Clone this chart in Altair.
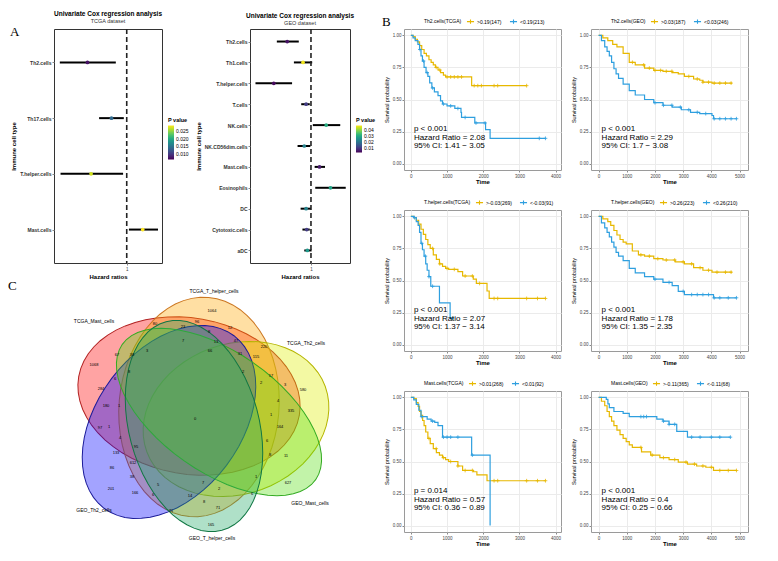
import altair as alt
import numpy as np
import pandas as pd

FONT = "Liberation Sans"
YELLOW = "#E7B800"
BLUE = "#2E9FDF"

# ---------------- Panel A: univariate Cox (forest) ----------------
tcga_cells = ["Th2.cells", "Th17.cells", "T.helper.cells", "Mast.cells"]
tcga_hr = [0.46, 0.79, 0.51, 1.22]
tcga_lo = [0.08, 0.62, 0.09, 1.03]
tcga_hi = [0.85, 0.96, 0.95, 1.43]
tcga_p = [0.0075, 0.014, 0.027, 0.0285]

geo_cells = ["Th2.cells", "Th1.cells", "T.helper.cells", "T.cells", "NK.cells",
             "NK.CD56dim.cells", "Mast.cells", "Eosinophils", "DC", "Cytotoxic.cells", "aDC"]
geo_hr = [0.61, 0.87, 0.39, 0.92, 1.25, 0.89, 1.14, 1.32, 0.92, 0.93, 0.94]
geo_lo = [0.44, 0.72, 0.09, 0.84, 1.03, 0.78, 1.06, 1.07, 0.83, 0.86, 0.89]
geo_hi = [0.80, 1.02, 0.69, 0.98, 1.48, 0.99, 1.23, 1.57, 1.00, 0.98, 1.01]
geo_p = [0.004, 0.046, 0.003, 0.010, 0.030, 0.022, 0.005, 0.028, 0.022, 0.010, 0.026]

# ---------------- Panel B: Kaplan-Meier curves ----------------
km_names = ["Th2.cells(TCGA)", "Th2.cells(GEO)", "T.helper.cells(TCGA)",
            "T.helper.cells(GEO)", "Mast.cells(TCGA)", "Mast.cells(GEO)"]
km_high_labels = [">0.19(147)", ">0.03(187)", ">-0.03(269)", ">0.26(223)", ">0.01(268)", ">-0.11(365)"]
km_low_labels = ["<0.19(213)", "<0.03(246)", "<-0.03(91)", "<0.26(210)", "<0.01(92)", "<-0.11(68)"]
km_p = ["p < 0.001", "p < 0.001", "p < 0.001", "p < 0.001", "p = 0.014", "p < 0.001"]
km_hr = ["Hazard Ratio = 2.08", "Hazard Ratio = 2.29", "Hazard Ratio = 2.07",
         "Hazard Ratio = 1.78", "Hazard Ratio = 0.57", "Hazard Ratio = 0.4"]
km_ci = ["95% CI: 1.41 \u2212 3.05", "95% CI: 1.7 \u2212 3.08", "95% CI: 1.37 \u2212 3.14",
         "95% CI: 1.35 \u2212 2.35", "95% CI: 0.36 \u2212 0.89", "95% CI: 0.25 \u2212 0.66"]
tcga_time_ticks = [0, 1000, 2000, 3000, 4000]
geo_time_ticks = [0, 1000, 2000, 3000, 4000, 5000]
surv_ticks = [0, 0.25, 0.5, 0.75, 1.0]

th2_tcga_hi_t = [0, 60, 120, 180, 240, 300, 365, 430, 500, 560, 620, 680, 750, 820, 900, 960, 1680, 3200]
th2_tcga_hi_s = [1.0, 0.99, 0.97, 0.95, 0.92, 0.89, 0.86, 0.84, 0.81, 0.79, 0.77, 0.75, 0.73, 0.71, 0.69, 0.676, 0.608, 0.608]
th2_tcga_hi_c = [700, 800, 1000, 1100, 1200, 1300, 1400, 1750, 1850, 1950, 2300, 2400, 3200]
th2_tcga_lo_t = [0, 60, 120, 195, 240, 280, 320, 365, 420, 470, 520, 580, 650, 750, 820, 875, 1000, 1215, 1385, 1400, 1767, 2065, 2190, 3720]
th2_tcga_lo_s = [1.0, 0.98, 0.96, 0.93, 0.89, 0.84, 0.80, 0.75, 0.71, 0.68, 0.63, 0.59, 0.56, 0.53, 0.49, 0.465, 0.45, 0.43, 0.40, 0.36, 0.317, 0.265, 0.197, 0.197]
th2_tcga_lo_c = [250, 350, 450, 600, 900, 1100, 1300, 1500, 1800, 2050, 3550, 3720]

th2_geo_hi_t = [0, 150, 326, 500, 650, 870, 1087, 1300, 1630, 1957, 2283, 2610, 2826, 3043, 3370, 3587, 3700, 4022, 4730]
th2_geo_hi_s = [1.0, 0.98, 0.96, 0.93, 0.91, 0.86, 0.79, 0.77, 0.745, 0.727, 0.72, 0.71, 0.70, 0.68, 0.66, 0.65, 0.635, 0.628, 0.628]
th2_geo_hi_c = [1200, 1600, 1800, 2000, 2200, 2400, 2600, 3200, 3500, 3700, 3900, 4100, 4300, 4500, 4700]
th2_geo_lo_t = [0, 100, 217, 300, 380, 460, 543, 620, 707, 870, 1087, 1300, 1630, 1957, 2283, 2610, 2935, 3261, 3587, 4022, 4076, 4890]
th2_geo_lo_s = [1.0, 0.96, 0.91, 0.875, 0.84, 0.79, 0.74, 0.70, 0.665, 0.62, 0.57, 0.535, 0.50, 0.475, 0.455, 0.44, 0.42, 0.40, 0.39, 0.375, 0.35, 0.35]
th2_geo_lo_c = [2000, 2300, 2600, 2900, 3200, 3500, 3800, 4100, 4300, 4500, 4700, 4890]

th_tcga_hi_t = [0, 80, 150, 215, 280, 345, 410, 470, 535, 620, 705, 790, 875, 960, 1045, 1300, 1430, 1725, 1810, 2105, 2165, 3720]
th_tcga_hi_s = [1.0, 0.99, 0.97, 0.94, 0.90, 0.86, 0.82, 0.78, 0.75, 0.70, 0.665, 0.63, 0.61, 0.595, 0.587, 0.57, 0.535, 0.51, 0.477, 0.418, 0.36, 0.36]
th_tcga_hi_c = [600, 800, 1000, 1200, 1500, 1700, 1900, 2300, 2400, 3200, 3500, 3720]
th_tcga_lo_t = [0, 80, 150, 200, 240, 280, 320, 365, 410, 450, 500, 550, 790, 1085, 1145]
th_tcga_lo_s = [1.0, 0.99, 0.96, 0.93, 0.875, 0.79, 0.74, 0.69, 0.63, 0.58, 0.53, 0.455, 0.325, 0.205, 0.205]
th_tcga_lo_c = [100, 300, 400, 500, 600, 1145]

th_geo_hi_t = [0, 150, 326, 430, 543, 650, 760, 870, 978, 1196, 1413, 1630, 1957, 2283, 2717, 3043, 3370, 3700, 4022, 4730]
th_geo_hi_s = [1.0, 0.98, 0.96, 0.93, 0.89, 0.855, 0.82, 0.80, 0.785, 0.73, 0.70, 0.69, 0.67, 0.66, 0.645, 0.63, 0.60, 0.58, 0.565, 0.565]
th_geo_hi_c = [1500, 1800, 2100, 2400, 2700, 3000, 3300, 3600, 3900, 4200, 4500, 4700]
th_geo_lo_t = [0, 100, 217, 300, 380, 460, 543, 620, 707, 870, 1087, 1300, 1630, 1957, 2283, 2610, 2826, 3043, 4022, 4076, 4890]
th_geo_lo_s = [1.0, 0.95, 0.91, 0.875, 0.84, 0.80, 0.76, 0.72, 0.69, 0.655, 0.595, 0.56, 0.53, 0.51, 0.485, 0.46, 0.415, 0.39, 0.39, 0.365, 0.365]
th_geo_lo_c = [2000, 2500, 3000, 3300, 3500, 3700, 3900, 4100, 4300, 4600, 4890]

mast_tcga_hi_t = [0, 80, 150, 200, 240, 280, 325, 365, 410, 470, 535, 620, 705, 790, 875, 960, 1045, 1300, 1430, 1725, 1825, 2105, 3720]
mast_tcga_hi_s = [1.0, 0.99, 0.96, 0.93, 0.89, 0.86, 0.82, 0.78, 0.73, 0.68, 0.64, 0.60, 0.57, 0.55, 0.53, 0.515, 0.50, 0.465, 0.43, 0.42, 0.395, 0.35, 0.35]
mast_tcga_hi_c = [500, 700, 900, 1100, 1300, 1500, 1700, 2300, 2400, 3200, 3500, 3720]
mast_tcga_lo_t = [0, 80, 150, 220, 280, 450, 560, 660, 750, 875, 1680, 2190]
mast_tcga_lo_s = [1.0, 0.98, 0.945, 0.90, 0.85, 0.83, 0.815, 0.805, 0.78, 0.69, 0.55, 0.0]
mast_tcga_lo_c = [300, 600, 900, 1000, 1100, 1300, 1700]

mast_geo_hi_t = [0, 100, 217, 300, 380, 460, 543, 650, 760, 870, 978, 1087, 1196, 1522, 1848, 2174, 2500, 2826, 3152, 3478, 3804, 4076, 4890]
mast_geo_hi_s = [1.0, 0.97, 0.935, 0.89, 0.85, 0.815, 0.78, 0.745, 0.71, 0.68, 0.655, 0.63, 0.61, 0.575, 0.55, 0.53, 0.515, 0.495, 0.48, 0.465, 0.455, 0.43, 0.43]
mast_geo_hi_c = [1500, 1900, 2300, 2700, 3100, 3400, 3700, 4000, 4300, 4600, 4890]
mast_geo_lo_t = [0, 272, 330, 380, 543, 870, 1087, 1848, 2065, 2283, 2500, 2772, 3043, 3152, 4674]
mast_geo_lo_s = [1.0, 0.985, 0.95, 0.92, 0.89, 0.875, 0.85, 0.85, 0.83, 0.815, 0.79, 0.735, 0.735, 0.69, 0.69]
mast_geo_lo_c = [1500, 1600, 1700, 2300, 2500, 2700, 3300, 3600, 4000, 4300, 4674]

# ---------------- Panel C: Venn diagram ----------------
venn_sets = ["TCGA_Mast_cells", "TCGA_T_helper_cells", "TCGA_Th2_cells",
             "GEO_Th2_cells", "GEO_Mast_cells", "GEO_T_helper_cells"]
venn_counts = ["1068", "80", "23", "7", "67", "38", "3", "6", "8", "284", "180", "1",
               "1064", "96", "12", "8", "13", "47", "66", "31", "220", "115", "2", "17",
               "3", "2", "580", "4", "335", "1", "0", "97", "1", "164", "4", "95", "6",
               "133", "8", "11", "612", "86", "38", "1", "627", "5", "7", "2", "201",
               "166", "6", "14", "6", "8", "71", "71", "165"]

# Venn geometry (diagram layout, in figure pixel units)
venn_count_x = [90, 151, 179, 179, 113, 128, 143, 111, 125, 97, 102, 115,
                208, 193, 226, 205, 212, 232, 206, 236, 260, 252, 239, 267,
                281, 257, 299, 274, 287, 267, 191, 96, 105, 276, 116, 132, 263,
                112, 266, 282, 129, 108, 128, 252, 284, 154, 199, 215, 107,
                131, 149, 186, 248, 200, 167, 214, 207]
venn_count_y = [371, 330, 333, 347, 361, 361, 357, 385, 378, 395, 412, 412,
                317, 328, 334, 338, 348, 347, 357, 360, 353, 363, 378, 382,
                391, 389, 396, 407, 417, 421, 425, 434, 433, 433, 444, 453, 447,
                459, 461, 462, 469, 474, 483, 483, 489, 491, 489, 495, 495,
                499, 501, 502, 500, 508, 517, 514, 531]
venn_label_x = [90, 210, 302, 90, 306, 208]
venn_label_y = [327, 297, 349, 516, 509, 544]
venn_cx = [185, 195, 232, 165, 215, 190]
venn_cy = [402, 413, 425, 428, 418, 432]
venn_a = [112, 110, 95, 108, 118, 108]
venn_b = [78, 80, 75, 72, 60, 65]
venn_ang = [10, 95, -20, 127, 35, 75]
venn_fill = ["#FF0000", "#FFA500", "#DDEE00", "#0000FF", "#55DD11", "#22AA66"]
venn_edge = ["#B22222", "#CC7722", "#B5B500", "#1A1A99", "#33AA22", "#117744"]


def step_value(ts, ss, t):
    v = ss[0]
    for ti, si in zip(ts, ss):
        if ti <= t:
            v = si
    return v


def forest(cells, hr, lo, hi, pv, subtitle, width, height, xmax, pdomain, pvalues,
           pformat, grad_len, letter=None):
    df = pd.DataFrame({"cell": cells, "hr": hr, "lo": lo, "hi": hi, "p": pv})
    xs = alt.Scale(domain=[0, xmax], nice=False, zero=False)
    ys = alt.Scale(type="point", padding=0.6, domain=cells)
    xaxis = alt.Axis(values=[1], grid=False, domain=False, labelFontSize=4.5,
                     titleFontSize=6, titleFontWeight="bold", tickSize=2,
                     labelPadding=1, titlePadding=3, labelColor="#444")
    yenc = alt.Y("cell:N", scale=ys, sort=None, title="Immune cell type",
                 axis=alt.Axis(labelFontSize=5, labelFontWeight="bold", labelColor="#333",
                               titleFontSize=6, titleFontWeight="bold", tickSize=2,
                               domain=False, labelPadding=1, titlePadding=3))
    base = alt.Chart(df)
    ci = base.mark_rule(color="black", strokeWidth=2).encode(
        x=alt.X("lo:Q", scale=xs, title="Hazard ratios", axis=xaxis), x2="hi:Q", y=yenc)
    ref = alt.Chart(pd.DataFrame({"one": [1.0]})).mark_rule(
        color="#222", strokeWidth=1.6, strokeDash=[5, 3]).encode(
        x=alt.X("one:Q", scale=xs, title="Hazard ratios", axis=xaxis))
    pts = base.mark_circle(size=14, opacity=1).encode(
        x=alt.X("hr:Q", scale=xs, title="Hazard ratios", axis=xaxis), y=yenc,
        color=alt.Color("p:Q", scale=alt.Scale(scheme="viridis", domain=pdomain),
                        legend=alt.Legend(title="P value", orient="none",
                                          legendX=width + 6, legendY=height / 2 - 28,
                                          values=pvalues, format=pformat,
                                          gradientLength=grad_len, gradientThickness=6,
                                          titleFontSize=5.5, titleFontWeight="bold",
                                          labelFontSize=5, titlePadding=2,
                                          gradientStrokeWidth=0)))
    layers = [ci, ref, pts]
    if letter:
        layers.append(alt.Chart(pd.DataFrame({"t": [letter]})).mark_text(
            font="Liberation Serif", fontSize=13, align="left", baseline="top").encode(
            text="t:N", x=alt.value(-44), y=alt.value(-3)))
    return alt.layer(*layers).properties(
        width=width, height=height,
        title=alt.TitleParams("Univariate Cox regression analysis", subtitle=subtitle,
                              fontSize=6.5, fontWeight="bold", subtitleFontSize=5.5,
                              subtitleColor="#333", anchor="middle", frame="group",
                              offset=2, subtitlePadding=1),
        view=alt.ViewBackground(stroke="#333333", strokeWidth=1))


def km(ta, sa, ca, tb, sb, cb, i, xdom, xticks, width, height, letter=None):
    la, lb = km_high_labels[i], km_low_labels[i]
    df = pd.concat([pd.DataFrame({"t": ta, "s": sa, "g": la}),
                    pd.DataFrame({"t": tb, "s": sb, "g": lb})], ignore_index=True)
    cens = pd.concat([
        pd.DataFrame({"t": ca, "s": [step_value(ta, sa, c) for c in ca], "g": la}),
        pd.DataFrame({"t": cb, "s": [step_value(tb, sb, c) for c in cb], "g": lb})],
        ignore_index=True)
    xs = alt.Scale(domain=xdom, nice=False, zero=False)
    ys = alt.Scale(domain=[-0.05, 1.05], nice=False, zero=False)
    xaxis = alt.Axis(values=xticks, tickCount=20, format="d", labelOverlap=False,
                     labelFontSize=4.5, titleFontSize=6,
                     titleFontWeight="bold", gridColor="#EBEBEB", domain=False,
                     tickColor="#888", tickSize=2, labelColor="#444",
                     labelPadding=1, titlePadding=1)
    yaxis = alt.Axis(values=surv_ticks, tickCount=20, format=".2f", labelOverlap=False,
                     labelFontSize=4.5, titleFontSize=5.5,
                     titleFontWeight="normal",
                     gridColor="#EBEBEB", domain=False, tickColor="#888",
                     tickSize=2, labelColor="#444", labelPadding=1,
                     titlePadding=3)
    xenc = alt.X("t:Q", scale=xs, title="Time", axis=xaxis)
    yenc = alt.Y("s:Q", scale=ys, title="Survival probability", axis=yaxis)
    cscale = alt.Scale(domain=[la, lb], range=[YELLOW, BLUE])
    line = alt.Chart(df).mark_line(interpolate="step-after", strokeWidth=1.2).encode(
        x=xenc, y=yenc,
        color=alt.Color("g:N", scale=cscale,
                        legend=alt.Legend(title=km_names[i], orient="none",
                                          direction="horizontal", titleOrient="left",
                                          legendX=20, legendY=-12,
                                          symbolType="M-1,0L1,0M0,-0.6L0,0.6",
                                          symbolSize=50, symbolStrokeWidth=1.1,
                                          titleFontSize=5, titleFontWeight="normal",
                                          labelFontSize=5, columnPadding=5,
                                          labelOffset=2, titlePadding=4,
                                          padding=0)))
    marks = alt.Chart(cens).mark_point(shape="M-1,0L1,0M0,-1L0,1", size=14,
                                       strokeWidth=0.8, opacity=1, filled=False).encode(
        x=xenc, y=yenc,
        color=alt.Color("g:N", scale=cscale, legend=None))
    ann = pd.DataFrame({"t": [xdom[1] * 0.02] * 3, "s": [0.27, 0.2, 0.135],
                        "label": [km_p[i], km_hr[i], km_ci[i]]})
    txt = alt.Chart(ann).mark_text(align="left", baseline="middle", fontSize=8,
                                   color="black").encode(
        x=xenc, y=yenc, text="label:N")
    layers = [line, marks, txt]
    if letter:
        layers.append(alt.Chart(pd.DataFrame({"t": [letter]})).mark_text(
            font="Liberation Serif", fontSize=13, align="left", baseline="top").encode(
            text="t:N", x=alt.value(-22), y=alt.value(-13)))
    return alt.layer(*layers).properties(
        width=width, height=height,
        view=alt.ViewBackground(stroke="#9a9a9a", strokeWidth=1))


def ellipse_path(ratio, n=60):
    pts = []
    for k in range(n):
        th = 2 * np.pi * k / n
        pts.append(f"{np.cos(th):.4f},{ratio * np.sin(th):.4f}")
    return "M" + "L".join(pts) + "Z"


def venn(x0, width, y0, y1):
    vdf = pd.DataFrame({"set": venn_sets, "cx": venn_cx, "cy": venn_cy,
                        "a": venn_a, "b": venn_b, "ang": venn_ang,
                        "fill": venn_fill, "edge": venn_edge})
    vdf["shape"] = [ellipse_path(b / a) for a, b in zip(venn_a, venn_b)]
    vdf["sz"] = [(2 * a) ** 2 for a in venn_a]
    xs = alt.Scale(domain=[x0, x0 + width], nice=False, zero=False)
    ys = alt.Scale(domain=[y0, y1], nice=False, zero=False, reverse=True)
    shapes = alt.Chart(vdf).mark_point(filled=True, opacity=1, fillOpacity=0.36,
                                       strokeOpacity=1, strokeWidth=1).encode(
        x=alt.X("cx:Q", scale=xs, axis=None), y=alt.Y("cy:Q", scale=ys, axis=None),
        shape=alt.Shape("shape:N", scale=None), size=alt.Size("sz:Q", scale=None),
        angle=alt.Angle("ang:Q", scale=None), fill=alt.Fill("fill:N", scale=None),
        stroke=alt.Stroke("edge:N", scale=None))
    cdf = pd.DataFrame({"n": venn_counts, "x": venn_count_x, "y": venn_count_y})
    counts = alt.Chart(cdf).mark_text(fontSize=4, color="black").encode(
        x=alt.X("x:Q", scale=xs), y=alt.Y("y:Q", scale=ys), text="n:N")
    ldf = pd.DataFrame({"n": venn_sets, "x": venn_label_x, "y": venn_label_y})
    labels = alt.Chart(ldf).mark_text(fontSize=5, color="black").encode(
        x=alt.X("x:Q", scale=xs), y=alt.Y("y:Q", scale=ys), text="n:N")
    letter = alt.Chart(pd.DataFrame({"t": ["C"]})).mark_text(
        font="Liberation Serif", fontSize=13, align="left", baseline="middle").encode(
        text="t:N", x=alt.value(4 - x0), y=alt.value(292 - y0))
    return alt.layer(shapes, counts, labels, letter).properties(
        width=width, height=y1 - y0, view=alt.ViewBackground(stroke=None))


ind = dict(color="independent", x="independent", y="independent")

f1 = forest(tcga_cells, tcga_hr, tcga_lo, tcga_hi, tcga_p, "TCGA dataset", 108, 234,
            1.485, [0.0065, 0.0285], [0.025, 0.02, 0.015, 0.01], ".3f", 34, letter="A")
f2 = forest(geo_cells, geo_hr, geo_lo, geo_hi, geo_p, "GEO dataset", 100, 234,
            1.64, [0.002, 0.047], [0.04, 0.03, 0.02, 0.01], ".2f", 27)
forest_row = alt.hconcat(f1, f2, spacing=4).resolve_scale(**ind)
left = alt.vconcat(forest_row, venn(50, 290, 287, 550), spacing=0).resolve_scale(**ind)

KW, KH = 157, 141
TD = [-190, 4150]
GD = [-270, 5300]
k1 = km(th2_tcga_hi_t, th2_tcga_hi_s, th2_tcga_hi_c, th2_tcga_lo_t, th2_tcga_lo_s, th2_tcga_lo_c, 0, TD, tcga_time_ticks, KW, KH, letter="B")
k2 = km(th2_geo_hi_t, th2_geo_hi_s, th2_geo_hi_c, th2_geo_lo_t, th2_geo_lo_s, th2_geo_lo_c, 1, GD, geo_time_ticks, KW, KH)
k3 = km(th_tcga_hi_t, th_tcga_hi_s, th_tcga_hi_c, th_tcga_lo_t, th_tcga_lo_s, th_tcga_lo_c, 2, TD, tcga_time_ticks, KW, KH)
k4 = km(th_geo_hi_t, th_geo_hi_s, th_geo_hi_c, th_geo_lo_t, th_geo_lo_s, th_geo_lo_c, 3, GD, geo_time_ticks, KW, KH)
k5 = km(mast_tcga_hi_t, mast_tcga_hi_s, mast_tcga_hi_c, mast_tcga_lo_t, mast_tcga_lo_s, mast_tcga_lo_c, 4, TD, tcga_time_ticks, KW, KH)
k6 = km(mast_geo_hi_t, mast_geo_hi_s, mast_geo_hi_c, mast_geo_lo_t, mast_geo_lo_s, mast_geo_lo_c, 5, GD, geo_time_ticks, KW, KH)

rows = [alt.hconcat(a, b, spacing=8).resolve_scale(**ind) for a, b in [(k1, k2), (k3, k4), (k5, k6)]]
right = alt.vconcat(*rows, spacing=12).resolve_scale(**ind)

chart = alt.hconcat(left, right, spacing=4).resolve_scale(**ind).properties(
    padding={"left": 0, "top": 2, "right": 0, "bottom": 0}
).configure(font=FONT, background="white")

chart.save("out.html", embed_options={"renderer": "svg", "actions": False})
